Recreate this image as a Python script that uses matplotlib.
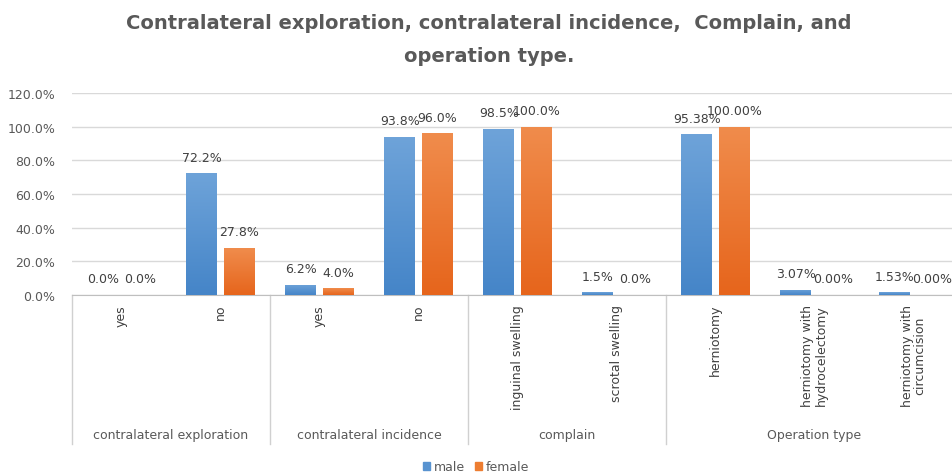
import matplotlib
matplotlib.use("Agg")
import numpy as np
import matplotlib.pyplot as plt
import matplotlib.transforms as mtransforms
from matplotlib.patches import Patch
from matplotlib.colors import LinearSegmentedColormap

categories = ["yes", "no", "yes", "no", "inguinal swelling", "scrotal swelling",
              "herniotomy", "herniotomy with\nhydrocelectomy", "herniotomy with\ncircumcision"]
groups = ["contralateral exploration", "contralateral incidence", "complain", "Operation type"]
group_sizes = [2, 2, 2, 3]
male = [0.0, 72.2, 6.2, 93.8, 98.5, 1.5, 95.38, 3.07, 1.53]
female = [0.0, 27.8, 4.0, 96.0, 100.0, 0.0, 100.0, 0.0, 0.0]
male_labels = ["0.0%", "72.2%", "6.2%", "93.8%", "98.5%", "1.5%", "95.38%", "3.07%", "1.53%"]
female_labels = ["0.0%", "27.8%", "4.0%", "96.0%", "100.0%", "0.0%", "100.00%", "0.00%", "0.00%"]
yticks = [0, 20, 40, 60, 80, 100, 120]
title = "Contralateral exploration, contralateral incidence,  Complain, and\noperation type."

W, H = 952, 477
fig = plt.figure(figsize=(W / 100, H / 100), dpi=100)
left, right, top, bottom = 72, 963, 94, 296
ax = fig.add_axes([left / W, 1 - bottom / H, (right - left) / W, (bottom - top) / H])

blue = "#5893D0"
orange = "#ED7D31"
txt = "#595959"
blue_cmap = LinearSegmentedColormap.from_list("b", ["#4585c8", "#6ea3d9"])
orange_cmap = LinearSegmentedColormap.from_list("o", ["#e6651c", "#f08c4c"])
grad = np.linspace(1, 0, 128).reshape(-1, 1)

n = len(categories)
x = list(range(n))
bw = 0.313
off = 0.19
bars_m = ax.bar([i - off for i in x], male, width=bw, color=blue, zorder=3)
bars_f = ax.bar([i + off for i in x], female, width=bw, color=orange, zorder=3)

for bars, cmap in ((bars_m, blue_cmap), (bars_f, orange_cmap)):
    for b in bars:
        h = b.get_height()
        if h <= 0:
            continue
        x0 = b.get_x()
        im = ax.imshow(grad, extent=[x0, x0 + b.get_width(), 0, h], aspect="auto",
                       cmap=cmap, vmin=0, vmax=1, zorder=4, interpolation="bilinear")
        im.set_clip_path(b)

for i in x:
    ax.annotate(male_labels[i], (i - off, male[i]), xytext=(0, 7), textcoords="offset points",
                ha="center", va="bottom", fontsize=9, color="#404040", zorder=5)
    ax.annotate(female_labels[i], (i + off, female[i]), xytext=(0, 7), textcoords="offset points",
                ha="center", va="bottom", fontsize=9, color="#404040", zorder=5)

ax.set_xlim(-0.5, n - 0.5)
ax.set_ylim(0, 120)
ax.set_aspect("auto")
ax.set_yticks(yticks)
ax.set_yticklabels([f"{v:.1f}%" for v in yticks], fontsize=9, color=txt)
ax.tick_params(axis="y", length=0, pad=12)
ax.set_xticks([])
ax.grid(axis="y", color="#d9d9d9", linewidth=1, zorder=0)
ax.set_axisbelow(True)
for s in ["top", "right", "left"]:
    ax.spines[s].set_visible(False)
ax.spines["bottom"].set_color("#bfbfbf")

trans = mtransforms.blended_transform_factory(ax.transData, ax.transAxes)
ph = bottom - top
sep_bottom = -(445 - bottom) / ph
pos = -0.5
seps = [pos]
for g in group_sizes:
    pos += g
    seps.append(pos)
for s in seps:
    ax.plot([s, s], [0, sep_bottom], transform=trans, color="#d0d0d0", lw=1, clip_on=False)

for i, c in enumerate(categories):
    ax.text(i, -(305 - bottom) / ph, c, transform=trans, rotation=90, ha="center", va="top",
            fontsize=9, color="#404040", linespacing=1.0)

for gi, g in enumerate(groups):
    center = (seps[gi] + seps[gi + 1]) / 2
    ax.text(center, -(436 - bottom) / ph, g, transform=trans, ha="center", va="center",
            fontsize=9, color=txt)

fig.text(489 / W, 1 - 40 / H, title, ha="center", va="center", fontsize=14,
         fontweight="bold", color=txt, linespacing=1.9)

handles = [Patch(color=blue, label="male"), Patch(color=orange, label="female")]
fig.legend(handles=handles, loc="center", bbox_to_anchor=(476 / W, 1 - 468 / H), ncol=2,
           frameon=False, fontsize=9, handlelength=0.6, handleheight=0.6, handletextpad=0.3,
           columnspacing=0.8, labelcolor=txt)

fig.savefig("out.png", dpi=100)
